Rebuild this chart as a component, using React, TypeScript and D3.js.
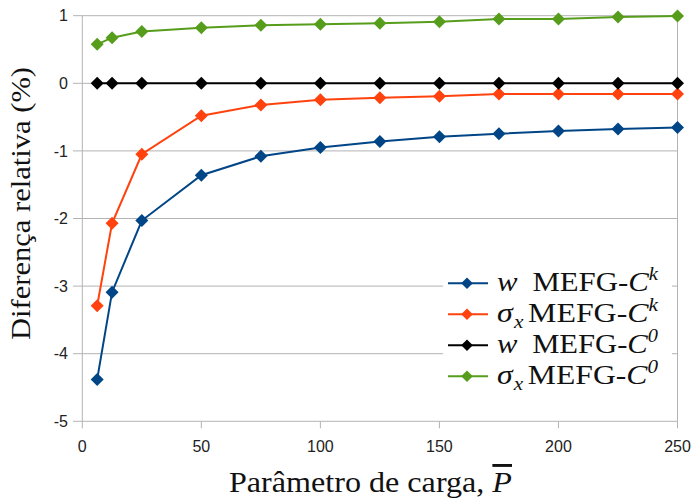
import React from "react";
import * as d3 from "d3";

const xValues = [6.25, 12.5, 25, 50, 75, 100, 125, 150, 175, 200, 225, 250];
const wCk = [-4.38, -3.09, -2.03, -1.36, -1.08, -0.95, -0.86, -0.79, -0.745, -0.705, -0.675, -0.655];
const sCk = [-3.29, -2.07, -1.05, -0.48, -0.32, -0.245, -0.215, -0.19, -0.16, -0.16, -0.16, -0.16];
const wC0 = [0, 0, 0, 0, 0, 0, 0, 0, 0, 0, 0, 0];
const sC0 = [0.577, 0.675, 0.765, 0.823, 0.858, 0.873, 0.888, 0.911, 0.95, 0.95, 0.98, 0.996];
const xTicks = [0, 50, 100, 150, 200, 250];
const yTicks = [1, 0, -1, -2, -3, -4, -5];

const series = [
  { name: "wCk", values: wCk, color: "#004586", sym: "w", sub: "", sup: "k" },
  { name: "sCk", values: sCk, color: "#ff420e", sym: "σ", sub: "x", sup: "k" },
  { name: "wC0", values: wC0, color: "#000000", sym: "w", sub: "", sup: "0" },
  { name: "sC0", values: sC0, color: "#579d1c", sym: "σ", sub: "x", sup: "0" },
];

export default function App() {
  const W = 694, H = 500;
  const x = d3.scaleLinear().domain([0, 250]).range([82.3, 677.5]);
  const y = d3.scaleLinear().domain([-5, 1]).range([421.3, 15.7]);
  const line = d3.line<number>().x((_, i) => x(xValues[i])).y((v) => y(v));
  const grid = "#b3b3b3";
  const dia = (cx: number, cy: number, r: number) =>
    `M${cx},${cy - r}L${cx + r},${cy}L${cx},${cy + r}L${cx - r},${cy}Z`;
  const serif = "'Liberation Serif', 'DejaVu Serif', serif";
  const sans = "'Liberation Sans', Arial, sans-serif";

  const legX = 443, legY = 268, legRowH = 31;

  return (
    <svg width={W} height={H} style={{ position: "absolute", left: 0, top: 0, background: "#fff" }}>
      <rect x={0} y={0} width={W} height={H} fill="#fff" />
      {yTicks.map((t) => (
        <g key={"y" + t}>
          <line x1={73} x2={x(250)} y1={y(t)} y2={y(t)} stroke={grid} strokeWidth={1} />
          <text x={68} y={y(t)} dy="0.35em" textAnchor="end" fontFamily={sans} fontSize={16} fill="#222">
            {t}
          </text>
        </g>
      ))}
      <line x1={x(0)} x2={x(0)} y1={y(1)} y2={y(-5)} stroke={grid} />
      <line x1={x(250)} x2={x(250)} y1={y(1)} y2={y(-5)} stroke={grid} />
      {xTicks.map((t) => (
        <g key={"x" + t}>
          <line x1={x(t)} x2={x(t)} y1={y(-5)} y2={y(-5) + 7} stroke={grid} />
          <text x={x(t)} y={446} dy="0.35em" textAnchor="middle" fontFamily={sans} fontSize={16} fill="#222">
            {t}
          </text>
        </g>
      ))}
      {series.map((s) => (
        <g key={s.name}>
          <path d={line(s.values) || ""} fill="none" stroke={s.color} strokeWidth={2} />
          {s.values.map((v, i) => (
            <path key={i} d={dia(x(xValues[i]), y(v), 6.5)} fill={s.color} />
          ))}
        </g>
      ))}
      {/* legend */}
      <rect x={legX} y={legY} width={229} height={126} fill="#fff" />
      {series.map((s, i) => {
        const cy = legY + 15.3 + i * legRowH;
        return (
          <g key={"leg" + s.name}>
            <line x1={legX + 5} x2={legX + 45} y1={cy} y2={cy} stroke={s.color} strokeWidth={2} />
            <path d={dia(legX + 24, cy, 5.8)} fill={s.color} />
            <text
              x={legX + 54}
              y={cy + 8}
              fontFamily={serif}
              fontSize={27}
              fill="#111"
              textLength={161}
              lengthAdjust="spacingAndGlyphs"
            >
              <tspan fontStyle="italic">{s.sym}</tspan>
              {s.sub ? (
                <tspan fontStyle="italic" fontSize={18} dy={6} dx={1}>{s.sub}</tspan>
              ) : null}
              <tspan dy={s.sub ? -6 : 0} dx={s.sub ? 4 : 13}>MEFG-</tspan>
              <tspan fontStyle="italic">C</tspan>
              <tspan fontStyle="italic" fontSize={18} dy={-11}>{s.sup}</tspan>
            </text>
          </g>
        );
      })}
      <text
        transform={`translate(30, 203.5) rotate(-90)`}
        textAnchor="middle"
        fontFamily={serif}
        fontSize={28}
        fill="#111"
        textLength={273}
        lengthAdjust="spacingAndGlyphs"
      >
        Diferença relativa (%)
      </text>
      <text
        x={370.5}
        y={492}
        textAnchor="middle"
        fontFamily={serif}
        fontSize={29}
        fill="#111"
        textLength={283}
        lengthAdjust="spacingAndGlyphs"
      >
        Parâmetro de carga, <tspan fontStyle="italic" textDecoration="overline">P</tspan>
      </text>
    </svg>
  );
}
